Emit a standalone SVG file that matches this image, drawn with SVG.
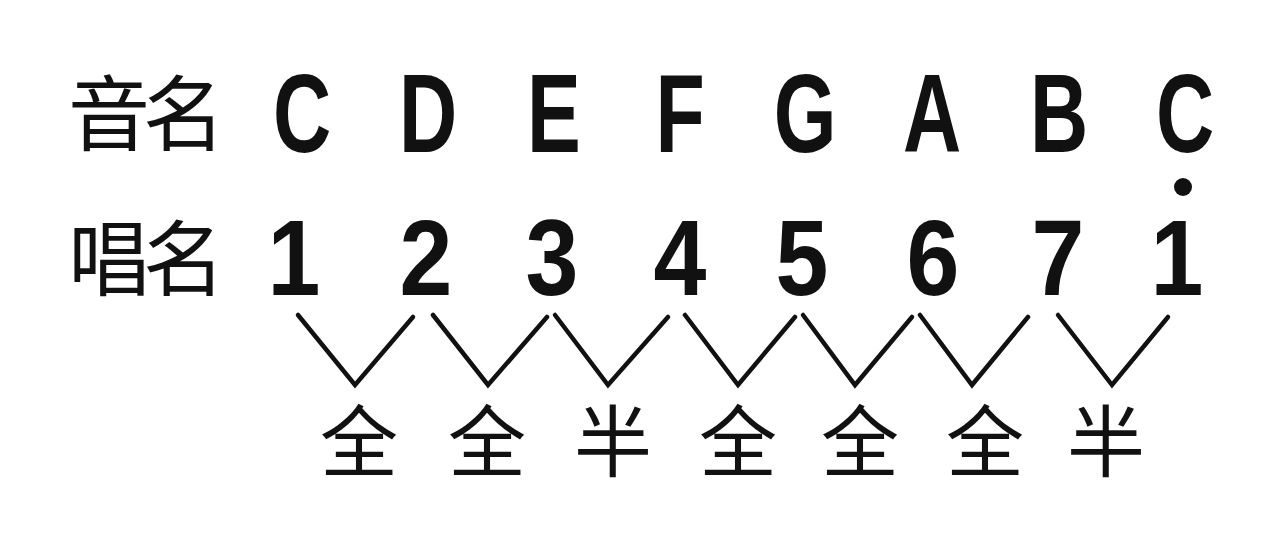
<svg xmlns="http://www.w3.org/2000/svg" width="1280" height="560" viewBox="0 0 1280 560">
<style>
.cjk{font-family:"Noto Sans CJK SC","Noto Sans CJK JP",sans-serif;font-size:78px;fill:#111;text-anchor:middle}
.lab{font-size:82px}
.lat{font-family:"Liberation Sans",Arial,sans-serif;font-weight:bold;font-size:108px;fill:#111;text-anchor:middle}
.let{font-size:112px}
.v{fill:none;stroke:#111;stroke-width:4.5;stroke-linejoin:miter;stroke-linecap:round}
</style>
<rect width="1280" height="560" fill="#ffffff"/>
<g id="row-labels">
<text id="label-yinming" class="cjk lab" x="109 184" y="144">音名</text>
<text id="label-changming" class="cjk lab" x="109 184" y="289">唱名</text>
</g>
<g id="notes">
<text id="note-C" class="lat let" transform="translate(302,152) scale(0.72,1)">C</text>
<text id="note-D" class="lat let" transform="translate(428,152) scale(0.72,1)">D</text>
<text id="note-E" class="lat let" transform="translate(554,152) scale(0.72,1)">E</text>
<text id="note-F" class="lat let" transform="translate(680,152) scale(0.72,1)">F</text>
<text id="note-G" class="lat let" transform="translate(805,152) scale(0.72,1)">G</text>
<text id="note-A" class="lat let" transform="translate(932,152) scale(0.72,1)">A</text>
<text id="note-B" class="lat let" transform="translate(1059,152) scale(0.72,1)">B</text>
<text id="note-C2" class="lat let" transform="translate(1185,152) scale(0.72,1)">C</text>
</g>
<g id="solfege">
<text id="num-1" class="lat" transform="translate(294,295) scale(0.88,1)">1</text>
<text id="num-2" class="lat" transform="translate(426,295) scale(0.88,1)">2</text>
<text id="num-3" class="lat" transform="translate(552,295) scale(0.88,1)">3</text>
<text id="num-4" class="lat" transform="translate(680,295) scale(0.88,1)">4</text>
<text id="num-5" class="lat" transform="translate(802,295) scale(0.88,1)">5</text>
<text id="num-6" class="lat" transform="translate(933,295) scale(0.88,1)">6</text>
<text id="num-7" class="lat" transform="translate(1058,295) scale(0.88,1)">7</text>
<g id="num-1-high">
<text class="lat" transform="translate(1177,295) scale(0.88,1)">1</text>
<circle cx="1183" cy="187" r="9" fill="#111"/>
</g>
</g>
<g id="connectors">
<polyline class="v" points="298,315 355,385 413,317"/>
<polyline class="v" points="433,315 488,385 547,317"/>
<polyline class="v" points="555,315 608,385 668,317"/>
<polyline class="v" points="685,315 738,385 795,317"/>
<polyline class="v" points="803,315 855,385 912,317"/>
<polyline class="v" points="920,315 972,385 1028,317"/>
<polyline class="v" points="1058,315 1112,385 1168,317"/>
</g>
<g id="intervals">
<text id="int-1" class="cjk" x="359" y="471">全</text>
<text id="int-2" class="cjk" x="487" y="471">全</text>
<text id="int-3" class="cjk" x="613" y="471">半</text>
<text id="int-4" class="cjk" x="738" y="471">全</text>
<text id="int-5" class="cjk" x="860" y="471">全</text>
<text id="int-6" class="cjk" x="985" y="471">全</text>
<text id="int-7" class="cjk" x="1106" y="471">半</text>
</g>
</svg>
